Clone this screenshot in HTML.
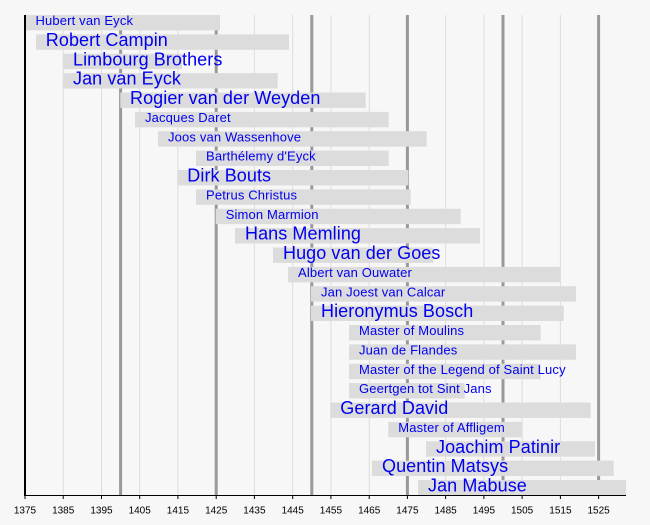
<!DOCTYPE html>
<html><head><meta charset="utf-8"><style>
html,body{margin:0;padding:0;background:#f7f7f7;}
svg{display:block;}
text{font-family:"Liberation Sans",Arial,sans-serif;}
.s{font-size:13px;fill:#0000ee;letter-spacing:0.15px;}
.b{font-size:18px;fill:#0000ee;letter-spacing:0.08px;}
.t{font-size:10px;fill:#000;text-anchor:middle;}
</style></head><body>
<svg width="650" height="525" viewBox="0 0 650 525" xmlns="http://www.w3.org/2000/svg">
<rect x="0" y="0" width="650" height="525" fill="#f7f7f7"/>
<!-- light gridlines -->
<g stroke="#dddddd" stroke-width="1">
<line x1="63.2" y1="15" x2="63.2" y2="495"/>
<line x1="101.5" y1="15" x2="101.5" y2="495"/>
<line x1="139.7" y1="15" x2="139.7" y2="495"/>
<line x1="177.9" y1="15" x2="177.9" y2="495"/>
<line x1="254.4" y1="15" x2="254.4" y2="495"/>
<line x1="292.7" y1="15" x2="292.7" y2="495"/>
<line x1="330.9" y1="15" x2="330.9" y2="495"/>
<line x1="369.2" y1="15" x2="369.2" y2="495"/>
<line x1="445.6" y1="15" x2="445.6" y2="495"/>
<line x1="483.9" y1="15" x2="483.9" y2="495"/>
<line x1="522.1" y1="15" x2="522.1" y2="495"/>
<line x1="560.4" y1="15" x2="560.4" y2="495"/>
</g>
<!-- bold gridlines -->
<g stroke="#999999" stroke-width="3">
<line x1="120.6" y1="15" x2="120.6" y2="495"/>
<line x1="216.2" y1="15" x2="216.2" y2="495"/>
<line x1="311.8" y1="15" x2="311.8" y2="495"/>
<line x1="407.4" y1="15" x2="407.4" y2="495"/>
<line x1="503" y1="15" x2="503" y2="495"/>
<line x1="598.6" y1="15" x2="598.6" y2="495"/>
</g>
<!-- bars -->
<g fill="#dcdcdc">
<rect x="26" y="15" width="194" height="15.4"/>
<rect x="36" y="34.4" width="253" height="15.4"/>
<rect x="63.3" y="53.75" width="118.7" height="15.4"/>
<rect x="63.3" y="73.1" width="214.4" height="15.4"/>
<rect x="120.3" y="92.5" width="245.4" height="15.4"/>
<rect x="135" y="111.9" width="253.7" height="15.4"/>
<rect x="158" y="131.25" width="268.7" height="15.4"/>
<rect x="196" y="150.6" width="192.7" height="15.4"/>
<rect x="177.3" y="170" width="231" height="15.4"/>
<rect x="196" y="189.4" width="214.7" height="15.4"/>
<rect x="215.7" y="208.75" width="245" height="15.4"/>
<rect x="235" y="228.1" width="245" height="15.4"/>
<rect x="273" y="247.5" width="160.3" height="15.4"/>
<rect x="288" y="266.9" width="272.7" height="15.4"/>
<rect x="311" y="286.25" width="265" height="15.4"/>
<rect x="311" y="305.6" width="252.7" height="15.4"/>
<rect x="349" y="325" width="191.7" height="15.4"/>
<rect x="349" y="344.4" width="227" height="15.4"/>
<rect x="349" y="363.75" width="191.7" height="15.4"/>
<rect x="349" y="383.1" width="115.7" height="15.4"/>
<rect x="330.3" y="402.5" width="260.4" height="15.4"/>
<rect x="388.3" y="421.9" width="133.4" height="15.4"/>
<rect x="426" y="441.25" width="169" height="15.4"/>
<rect x="372" y="460.6" width="241.7" height="15.4"/>
<rect x="418" y="480" width="208" height="15"/>
</g>
<!-- labels -->
<text class="s" x="35.5" y="25">Hubert van Eyck</text>
<text class="b" x="45.8" y="46">Robert Campin</text>
<text class="b" x="73" y="65.35">Limbourg Brothers</text>
<text class="b" x="73" y="84.7">Jan van Eyck</text>
<text class="b" x="130" y="104.1">Rogier van der Weyden</text>
<text class="s" x="145" y="121.9">Jacques Daret</text>
<text class="s" x="168" y="141.25">Joos van Wassenhove</text>
<text class="s" x="206" y="160.6">Barthélemy d'Eyck</text>
<text class="b" x="187.3" y="181.6">Dirk Bouts</text>
<text class="s" x="206" y="199.4">Petrus Christus</text>
<text class="s" x="225.7" y="218.75">Simon Marmion</text>
<text class="b" x="245" y="239.7">Hans Memling</text>
<text class="b" x="283" y="259.1">Hugo van der Goes</text>
<text class="s" x="298" y="276.9">Albert van Ouwater</text>
<text class="s" x="321" y="296.25">Jan Joest van Calcar</text>
<text class="b" x="321" y="317.2">Hieronymus Bosch</text>
<text class="s" x="359" y="335">Master of Moulins</text>
<text class="s" x="359" y="354.4">Juan de Flandes</text>
<text class="s" x="359" y="373.75">Master of the Legend of Saint Lucy</text>
<text class="s" x="359" y="393.1">Geertgen tot Sint Jans</text>
<text class="b" x="340.3" y="414.1">Gerard David</text>
<text class="s" x="398.3" y="431.9">Master of Affligem</text>
<text class="b" x="436" y="452.85">Joachim Patinir</text>
<text class="b" x="382" y="472.2">Quentin Matsys</text>
<text class="b" x="428" y="491.6">Jan Mabuse</text>
<!-- axes -->
<line x1="25" y1="15" x2="25" y2="495.5" stroke="#000" stroke-width="2"/>
<line x1="24" y1="495.5" x2="626" y2="495.5" stroke="#000" stroke-width="1"/>
<g stroke="#000" stroke-width="1">
<line x1="25" y1="495" x2="25" y2="499"/>
<line x1="63.2" y1="495" x2="63.2" y2="499"/>
<line x1="101.5" y1="495" x2="101.5" y2="499"/>
<line x1="139.7" y1="495" x2="139.7" y2="499"/>
<line x1="177.9" y1="495" x2="177.9" y2="499"/>
<line x1="216.2" y1="495" x2="216.2" y2="499"/>
<line x1="254.4" y1="495" x2="254.4" y2="499"/>
<line x1="292.7" y1="495" x2="292.7" y2="499"/>
<line x1="330.9" y1="495" x2="330.9" y2="499"/>
<line x1="369.2" y1="495" x2="369.2" y2="499"/>
<line x1="407.4" y1="495" x2="407.4" y2="499"/>
<line x1="445.6" y1="495" x2="445.6" y2="499"/>
<line x1="483.9" y1="495" x2="483.9" y2="499"/>
<line x1="522.1" y1="495" x2="522.1" y2="499"/>
<line x1="560.4" y1="495" x2="560.4" y2="499"/>
<line x1="598.6" y1="495" x2="598.6" y2="499"/>
</g>
<g>
<text class="t" x="25" y="513.5">1375</text>
<text class="t" x="63.2" y="513.5">1385</text>
<text class="t" x="101.5" y="513.5">1395</text>
<text class="t" x="139.7" y="513.5">1405</text>
<text class="t" x="177.9" y="513.5">1415</text>
<text class="t" x="216.2" y="513.5">1425</text>
<text class="t" x="254.4" y="513.5">1435</text>
<text class="t" x="292.7" y="513.5">1445</text>
<text class="t" x="330.9" y="513.5">1455</text>
<text class="t" x="369.2" y="513.5">1465</text>
<text class="t" x="407.4" y="513.5">1475</text>
<text class="t" x="445.6" y="513.5">1485</text>
<text class="t" x="483.9" y="513.5">1495</text>
<text class="t" x="522.1" y="513.5">1505</text>
<text class="t" x="560.4" y="513.5">1515</text>
<text class="t" x="598.6" y="513.5">1525</text>
</g>
</svg>
</body></html>
